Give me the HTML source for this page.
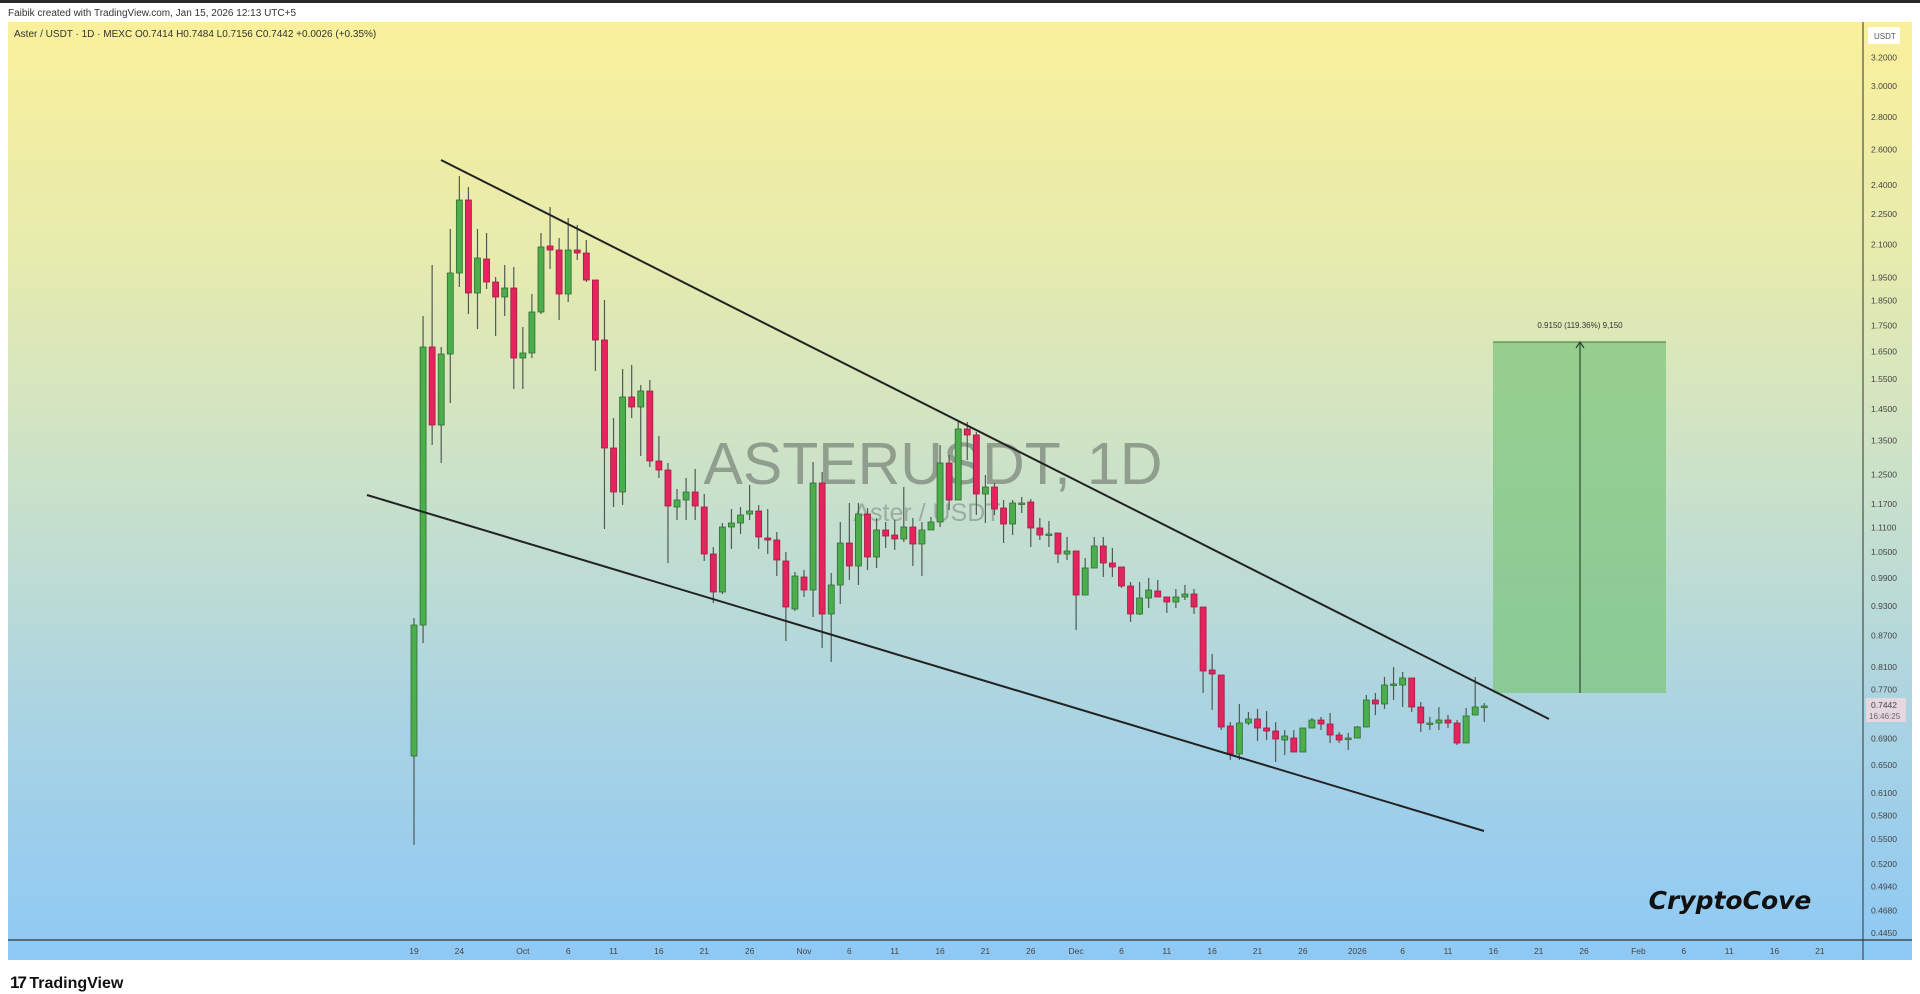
<!DOCTYPE html>
<html><head><meta charset="utf-8"><style>
html,body{margin:0;padding:0;background:#fff;width:1920px;height:994px;overflow:hidden;font-family:"Liberation Sans",sans-serif}
#top{position:absolute;left:0;top:0;width:1920px;height:3px;background:#2a2a2a}
#hdr{position:absolute;left:8px;top:8px;font-size:10px;color:#333}
#chart{position:absolute;left:8px;top:22px;width:1904px;height:938px;background:linear-gradient(to bottom,#faf09b 0%,#e6ebae 25%,#c9e1cb 50%,#a9d3e3 75%,#8ec9f5 100%)}
svg{position:absolute;left:0;top:0}
#logo{position:absolute;left:10px;top:973px;font-size:16px;font-weight:bold;color:#111}
</style></head><body>
<div id="top"></div>
<div id="hdr">Faibik created with TradingView.com, Jan 15, 2026 12:13 UTC+5</div>
<div id="chart"></div>
<svg id="s" width="1920" height="994" xmlns="http://www.w3.org/2000/svg"></svg>
<div id="logo"><span style="letter-spacing:-2px;font-size:17px">17</span> TradingView</div>
<script>
const NS="http://www.w3.org/2000/svg";const s=document.getElementById('s');
function el(t,a,txt){const e=document.createElementNS(NS,t);for(const k in a)e.setAttribute(k,a[k]);if(txt!==undefined)e.textContent=txt;s.appendChild(e);return e;}
el('text',{x:14,y:37,'font-size':10,fill:'#333','font-family':'Liberation Sans'},'Aster / USDT · 1D · MEXC  O0.7414  H0.7484  L0.7156  C0.7442  +0.0026 (+0.35%)');
el('text',{x:933,y:484,'font-size':59,fill:'#6f7a6f','fill-opacity':0.65,'text-anchor':'middle','font-family':'Liberation Sans'},'ASTERUSDT, 1D');
el('text',{x:927,y:521,'font-size':25,fill:'#6f7a6f','fill-opacity':0.5,'text-anchor':'middle','font-family':'Liberation Sans'},'Aster / USDT');
el('rect',{x:1493,y:342,width:173,height:351,fill:'#7fc57f','fill-opacity':0.75});
el('line',{x1:1493,y1:342,x2:1666,y2:342,stroke:'#3d7a3d','stroke-width':1});
el('line',{x1:1580,y1:693,x2:1580,y2:343,stroke:'#2d4a2d','stroke-width':1.2});
el('path',{d:'M1576,348 L1580,342 L1584,348',stroke:'#2d4a2d',fill:'none','stroke-width':1.2});
el('text',{x:1580,y:328,'font-size':8,fill:'#333','text-anchor':'middle'},'0.9150 (119.36%) 9,150');
const D=[
[756,625,618,845],[625,347,316,643],[347,425,265,445],[425,354,347,463],[354,273,229,403],[273,200,176,287],[200,293,187,314],[293,258,229,329],[259,282,233,289],[282,297,277,336],
[297,288,265,316],[288,358,267,389],[358,353,327,389],[353,312,294,358],[312,247,233,314],[246,250,207,269],[250,294,238,320],[294,250,218,302],[250,253,225,260],[253,280,240,282],
[280,340,280,371],[340,448,300,529],[448,492,418,507],[492,397,369,505],[397,407,365,418],[407,391,385,456],[391,461,380,467],[461,470,436,478],[470,506,463,563],[507,500,489,520],
[500,492,478,520],[492,506,469,520],[507,554,494,561],[554,592,547,603],[592,527,523,594],[527,523,509,549],[523,515,507,534],[514,511,485,520],[511,537,505,549],[538,540,509,554],
[540,560,532,576],[561,607,552,641],[609,576,572,611],
[577,590,570,597],[590,483,462,617],[483,614,472,648],[614,585,573,662],[585,543,522,604],[543,566,503,580],[566,514,503,585],[514,557,508,570],[557,530,518,568],[530,536,522,548],
[535,539,520,550],[539,527,487,542],[527,544,518,566],[544,530,522,576],[530,522,517,530],[522,463,445,527],[463,500,455,510],[500,429,422,500],[429,435,422,460],[435,494,432,515],
[494,487,475,523],[487,509,483,515],[508,524,500,543],[524,503,500,535],[503,503,497,513],[502,528,499,547],[528,535,518,540],[534,534,521,547],[533,554,533,563],[554,551,537,560],
[551,595,551,630],[595,568,558,595],[568,546,537,568],[546,563,537,577],[563,567,548,577],[567,586,567,588],[586,614,582,622],[614,598,582,615],[598,590,578,608],[591,597,580,597],
[597,602,597,613],[602,597,589,608],
[597,594,585,600],[594,607,589,614],[607,671,607,693],[670,674,654,710],[675,727,675,730],[726,754,722,760],[754,723,704,760],[723,719,712,725],[719,728,709,741],[728,731,711,740],
[731,739,722,762],[740,736,730,755],[738,752,730,752],[752,728,728,752],[728,720,718,728],[720,724,717,730],[724,735,713,743],[735,740,732,743],[738,738,733,750],[738,727,726,738],
[727,700,695,727],[700,704,693,715],[704,685,677,709],[684,684,667,700],[685,678,672,707],[678,707,678,712],[707,723,702,732],[723,723,717,730],[723,720,707,730],[720,723,715,728],
[723,743,720,745],[743,716,708,743],[715,707,677,715],[707,706,703,722]];
D.forEach((c,i)=>{const x=414+i*9.07;const [o,cl,h,l]=c;const up=cl<=o;
 el('line',{x1:x,y1:h,x2:x,y2:l,stroke:'#4f5a55','stroke-width':1.2});
 const t=Math.min(o,cl),b=Math.max(o,cl);const hh=Math.max(b-t,1.5);
 el('rect',{x:x-3,y:t,width:6,height:hh,fill:up?'#4cad4c':'#e4245c',stroke:up?'#2f6e33':'#a61a45','stroke-width':0.8});
});
el('line',{x1:441,y1:160,x2:1549,y2:719,stroke:'#222','stroke-width':2});
el('line',{x1:367,y1:495,x2:1484,y2:831,stroke:'#222','stroke-width':2});
el('line',{x1:1863,y1:22,x2:1863,y2:960,stroke:'#333','stroke-width':1});
el('line',{x1:8,y1:940,x2:1912,y2:940,stroke:'#333','stroke-width':1.2});
el('rect',{x:1868,y:27,width:32,height:17,fill:'#fff'});
el('text',{x:1874,y:39,'font-size':8,fill:'#555'},'USDT');
const P=['3.2000','3.0000','2.8000','2.6000','2.4000','2.2500','2.1000','1.9500','1.8500','1.7500','1.6500','1.5500','1.4500','1.3500','1.2500','1.1700','1.1100','1.0500','0.9900','0.9300','0.8700','0.8100','0.7700','0.6900','0.6500','0.6100','0.5800','0.5500','0.5200','0.4940','0.4680','0.4450'];
P.forEach(p=>{const y=57.5+(1.1632-Math.log(+p))/1.9729*875.5;el('text',{x:1871,y:y+3,'font-size':8.5,fill:'#444'},p);});
el('rect',{x:1866,y:698,width:40,height:24,fill:'#e6d6de'});
el('text',{x:1871,y:708,'font-size':8.5,fill:'#444'},'0.7442');
el('text',{x:1869,y:719,'font-size':8,fill:'#666'},'16:46:25');
const L=[[0,'19'],[5,'24'],[12,'Oct'],[17,'6'],[22,'11'],[27,'16'],[32,'21'],[37,'26'],[43,'Nov'],[48,'6'],[53,'11'],[58,'16'],[63,'21'],[68,'26'],[73,'Dec'],[78,'6'],[83,'11'],[88,'16'],[93,'21'],[98,'26'],[104,'2026'],[109,'6'],[114,'11'],[119,'16'],[124,'21'],[129,'26'],[135,'Feb'],[140,'6'],[145,'11'],[150,'16'],[155,'21']];
L.forEach(([d,t])=>{el('text',{x:414+d*9.07,y:954,'font-size':8.5,fill:'#444','text-anchor':'middle'},t);});
el('text',{x:1730,y:909,'font-size':25,'font-weight':'bold','font-style':'italic',fill:'#111','text-anchor':'middle','font-family':'DejaVu Sans'},'CryptoCove');
</script>
</body></html>
